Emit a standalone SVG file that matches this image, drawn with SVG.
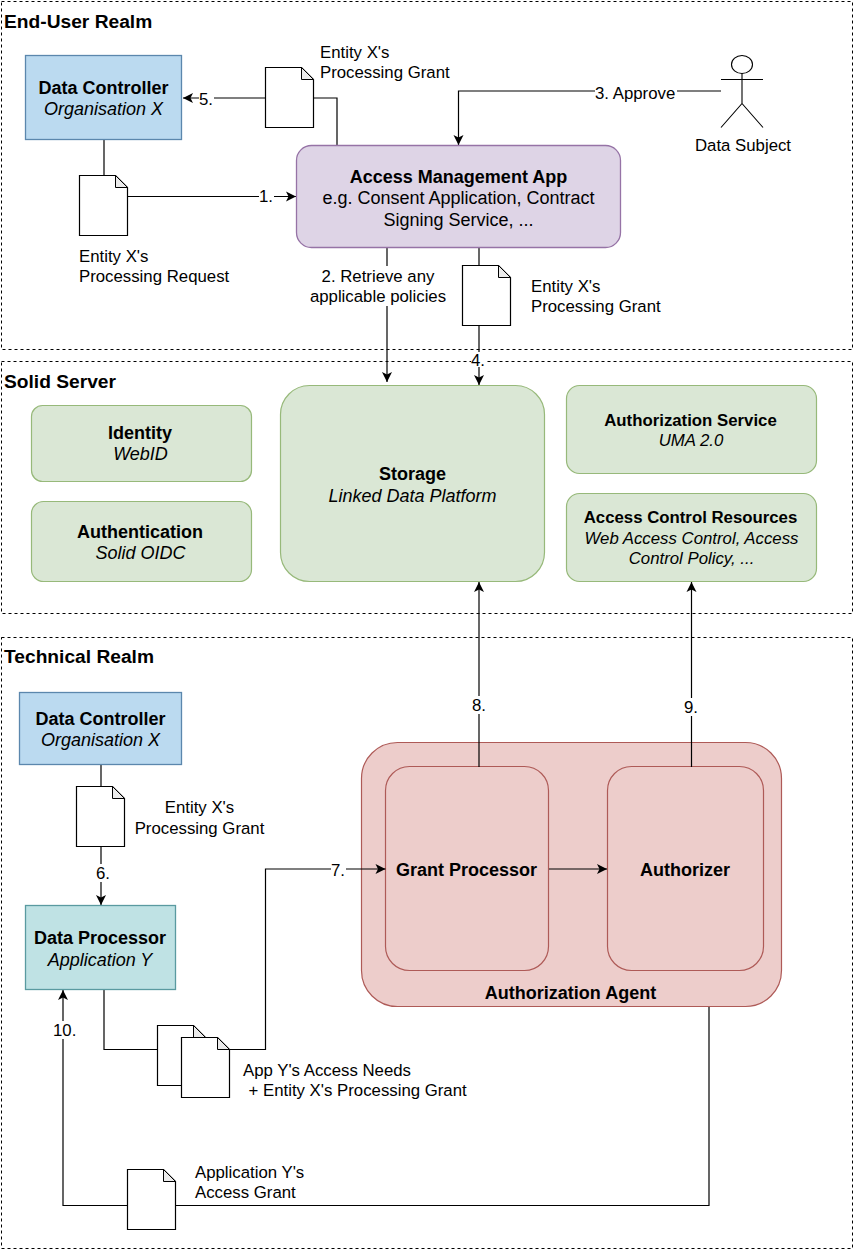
<svg xmlns="http://www.w3.org/2000/svg" width="855" height="1253" viewBox="0 0 855 1253">
<style>
text{font-family:"Liberation Sans",Arial,sans-serif;font-size:16.8px;fill:#000}
.m{text-anchor:middle}
.n{font-size:18px}
.b{font-weight:bold}
.i{font-style:italic}
.realm{fill:none;stroke:#000;stroke-width:1;stroke-dasharray:3 3}
.rt{font-size:19.2px;font-weight:bold}
.blue{fill:#bbdaf0;stroke:#5b87ad;stroke-width:1.3}
.teal{fill:#bfe2e4;stroke:#5a9aa0;stroke-width:1.3}
.purple{fill:#ded4e6;stroke:#9673a6;stroke-width:1.3}
.green{fill:#dae7d5;stroke:#97b97a;stroke-width:1.2}
.red{fill:#edcdcb;stroke:#ae5a57;stroke-width:1.2}
.doc{fill:#fff;stroke:#000;stroke-width:1.2}
.fold{fill:#ebebeb;stroke:#000;stroke-width:1}
.c{fill:none;stroke:#000;stroke-width:1.2}
.lb{fill:#fff;stroke:none}
.lr{fill:#edcdcb;stroke:none}
.actor{fill:#fff;stroke:#000;stroke-width:1.1}
</style>
<defs>
<marker id="a" viewBox="0 0 12 12" refX="11" refY="6" markerWidth="12" markerHeight="12" markerUnits="userSpaceOnUse" orient="auto"><path d="M1 1L11 6L1 11L3.500 6Z" fill="#000"/></marker>
<g id="d"><path class="doc" d="M0 0H36L48 12V60H0Z"/><path class="fold" d="M36 0V12H48Z"/></g>
</defs>
<rect width="855" height="1253" fill="#fff"/>
<g id="realms">
<g id="end-user-realm"><rect class="realm" x="1.500" y="1.500" width="851" height="348"/><text class="rt" x="4" y="28">End-User Realm</text></g>
<g id="solid-server"><rect class="realm" x="1.500" y="361.500" width="851" height="252"/><text class="rt" x="4" y="388">Solid Server</text></g>
<g id="technical-realm"><rect class="realm" x="1.500" y="637.500" width="851" height="611"/><text class="rt" x="4" y="663">Technical Realm</text></g>
</g>
<g id="authorization-agent"><rect class="red" x="361.500" y="742.500" width="420" height="264" rx="36"/><rect class="red" x="385.500" y="766.500" width="163" height="204" rx="24"/><rect class="red" x="607.500" y="766.500" width="156" height="204" rx="24"/><text class="m b n" x="466.500" y="876">Grant Processor</text><text class="m b n" x="685" y="876">Authorizer</text><text class="m b n" x="570.500" y="999">Authorization Agent</text></g>
<g id="connectors">
<path class="c" d="M265 98H183" marker-end="url(#a)"/>
<path class="c" d="M337 146V98H313"/>
<path class="c" d="M104 140V176"/>
<path class="c" d="M128 196.500H296" marker-end="url(#a)"/>
<path class="c" d="M721 91H458.500V145" marker-end="url(#a)"/>
<path class="c" d="M387 248V382" marker-end="url(#a)"/>
<path class="c" d="M479 248V265"/>
<path class="c" d="M479 326V385" marker-end="url(#a)"/>
<path class="c" d="M479 767V582" marker-end="url(#a)"/>
<path class="c" d="M691.500 767V582" marker-end="url(#a)"/>
<path class="c" d="M101 765V787"/>
<path class="c" d="M101 847V905" marker-end="url(#a)"/>
<path class="c" d="M104 990V1049.500H157"/>
<path class="c" d="M229 1049.500H265.500V869H385.500" marker-end="url(#a)"/>
<path class="c" d="M549 869H607" marker-end="url(#a)"/>
<path class="c" d="M709 1007V1205.500H176"/>
<path class="c" d="M127 1205.500H63V990" marker-end="url(#a)"/>
</g>
<g id="data-controller-x"><rect class="blue" x="25.500" y="55.500" width="156" height="84"/><text class="m b n" x="103.500" y="94">Data Controller</text><text class="m i n" x="103.500" y="115">Organisation X</text></g>
<g id="access-management-app"><rect class="purple" x="296.500" y="145.500" width="324" height="102" rx="15"/><text class="m b n" x="458.500" y="183">Access Management App</text><text class="m n" x="458.500" y="204">e.g. Consent Application, Contract</text><text class="m n" x="458.500" y="226">Signing Service, ...</text></g>
<g id="data-subject"><ellipse class="actor" cx="742" cy="64.500" rx="10.500" ry="9"/><path class="actor" d="M742 73.500V103.500M721 79.500H763M721 127.500L742 103.500L763 127.500" fill="none"/><text class="m" x="743" y="151">Data Subject</text></g>
<g id="doc-grant-top"><use href="#d" x="265.500" y="67.500"/><text x="320" y="58">Entity X's</text><text x="320" y="78">Processing Grant</text></g>
<g id="doc-request"><use href="#d" x="79.500" y="175.500"/><text x="79" y="262">Entity X's</text><text x="79" y="282">Processing Request</text></g>
<g id="doc-grant-4"><use href="#d" x="462.500" y="265.500"/><text x="531" y="292">Entity X's</text><text x="531" y="312">Processing Grant</text></g>
<g id="label-5"><rect class="lb" x="199" y="90" width="15" height="18"/><text x="199" y="105">5.</text></g>
<g id="label-1"><rect class="lb" x="259" y="188" width="15" height="18"/><text x="259" y="202">1.</text></g>
<g id="label-3"><rect class="lb" x="595" y="84" width="82" height="18"/><text x="595" y="99">3. Approve</text></g>
<g id="label-2"><rect class="lb" x="310" y="266" width="136" height="40"/><text class="m" x="378" y="282">2. Retrieve any</text><text class="m" x="378" y="302">applicable policies</text></g>
<g id="label-4"><rect class="lb" x="471" y="352" width="15" height="15"/><text x="471" y="366">4.</text></g>
<g id="identity"><rect class="green" x="31.500" y="405.500" width="220" height="76" rx="11"/><text class="m b n" x="140" y="439">Identity</text><text class="m i n" x="140.500" y="460">WebID</text></g>
<g id="authentication"><rect class="green" x="31.500" y="501.500" width="220" height="80" rx="12"/><text class="m b n" x="140" y="538">Authentication</text><text class="m i n" x="140.500" y="559">Solid OIDC</text></g>
<g id="storage"><rect class="green" x="280.500" y="385.500" width="264" height="196" rx="29"/><text class="m b n" x="412.500" y="480">Storage</text><text class="m i n" x="412.500" y="502">Linked Data Platform</text></g>
<g id="authorization-service"><rect class="green" x="566.500" y="385.500" width="250" height="88" rx="13"/><text class="m b" x="690.500" y="426">Authorization Service</text><text class="m i" x="691" y="446">UMA 2.0</text></g>
<g id="access-control-resources"><rect class="green" x="566.500" y="493.500" width="250" height="88" rx="13"/><text class="m b" x="690.500" y="523">Access Control Resources</text><text class="m i" x="691.500" y="544">Web Access Control, Access</text><text class="m i" x="691.500" y="564">Control Policy, ...</text></g>
<g id="data-controller-x2"><rect class="blue" x="19.500" y="692.500" width="162" height="72"/><text class="m b n" x="100.500" y="725">Data Controller</text><text class="m i n" x="100.500" y="746">Organisation X</text></g>
<g id="data-processor"><rect class="teal" x="25.500" y="905.500" width="150" height="84"/><text class="m b n" x="100" y="944">Data Processor</text><text class="m i n" x="100" y="966">Application Y</text></g>
<g id="doc-grant-6"><use href="#d" x="76.500" y="786.500"/><text class="m" x="199.500" y="813">Entity X's</text><text class="m" x="199.500" y="834">Processing Grant</text></g>
<g id="label-6"><rect class="lb" x="95" y="864" width="15" height="18"/><text x="96" y="879">6.</text></g>
<g id="label-7"><rect class="lb" x="331" y="860" width="15" height="18"/><text x="331" y="876">7.</text></g>
<g id="label-8"><rect class="lb" x="472" y="696" width="15" height="18"/><text x="472" y="711">8.</text></g>
<g id="label-9"><rect class="lb" x="684" y="698" width="15" height="18"/><text x="684" y="713">9.</text></g>
<g id="label-10"><rect class="lb" x="52" y="1021" width="22" height="18"/><text x="53" y="1036">10.</text></g>
<g id="doc-access-needs"><use href="#d" x="157.500" y="1025.500"/><use href="#d" x="181.500" y="1037.500"/><text x="243" y="1076">App Y's Access Needs</text><text x="248.500" y="1096">+ Entity X's Processing Grant</text></g>
<g id="doc-access-grant"><use href="#d" x="127.500" y="1169.500"/><text x="195" y="1178">Application Y's</text><text x="195" y="1198">Access Grant</text></g>
</svg>
